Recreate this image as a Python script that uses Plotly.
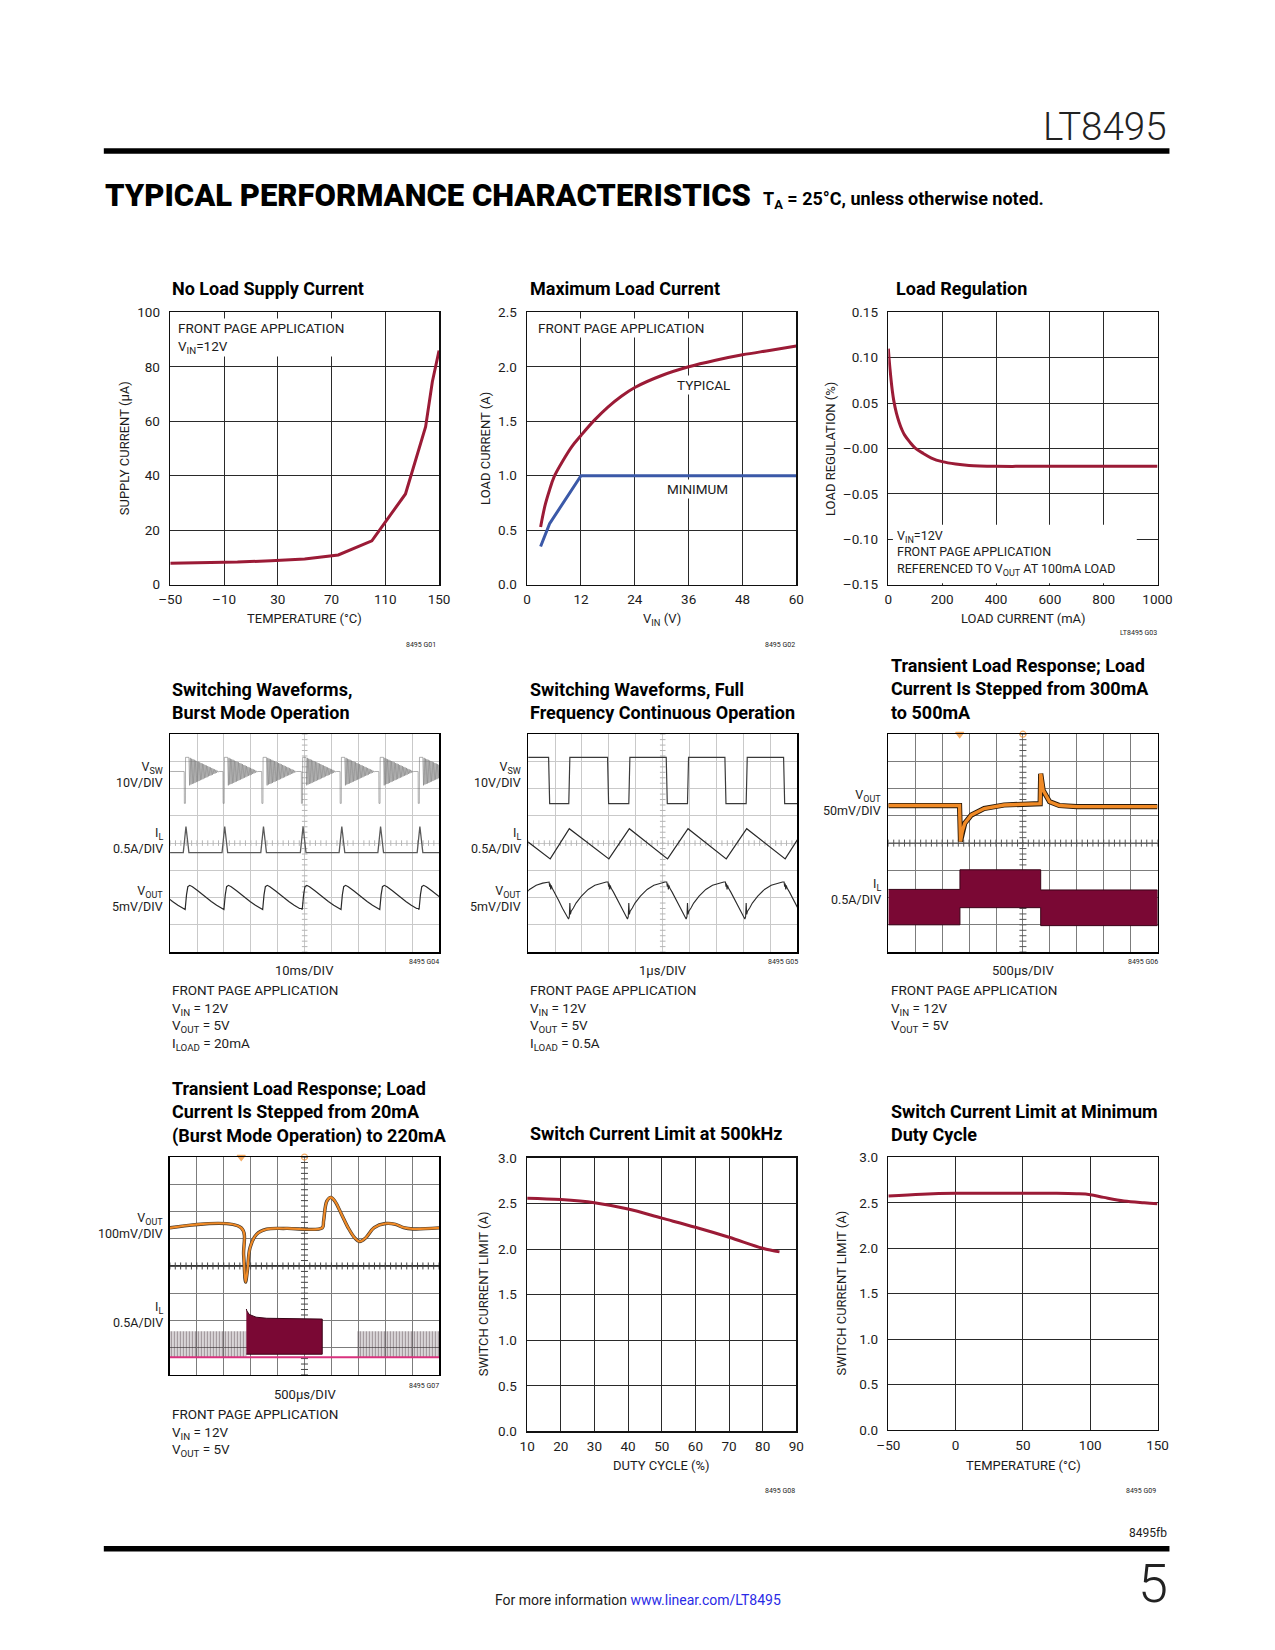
import numpy as np
import plotly.graph_objects as go

W, H = 1275, 1650
FONT = "Roboto, Liberation Sans, sans-serif"
INK = "#1c1c1c"
RED = "#9B1B36"
BLUE = "#3B59A8"
ORANGE = "#F08A26"
MAROON = "#7A0834"

# ======================= DATA =======================
# G01 No Load Supply Current
G01_TEMP_C = [-50, -25, 0, 25, 50, 75, 100, 125, 140, 145, 150]
G01_SUPPLY_UA = [7.9, 8.1, 8.3, 8.8, 9.4, 10.9, 16.1, 33.3, 58.0, 74.5, 86.0]
G01_XTICKS = [-50, -10, 30, 70, 110, 150]
G01_XLABELS = ["–50", "–10", "30", "70", "110", "150"]
G01_YTICKS = [0, 20, 40, 60, 80, 100]
G01_YLABELS = ["0", "20", "40", "60", "80", "100"]

# G02 Maximum Load Current
G02_VIN_TYP = [3, 4, 5, 6, 8, 10, 12, 15, 18, 21, 24, 30, 36, 42, 48, 54, 60]
G02_ILOAD_TYP = [0.53, 0.73, 0.87, 0.99, 1.14, 1.27, 1.37, 1.51, 1.63, 1.73, 1.81, 1.92, 2.0, 2.06, 2.11, 2.15, 2.19]
G02_VIN_MIN = [3, 5, 12, 60]
G02_ILOAD_MIN = [0.35, 0.56, 1.0, 1.0]
G02_XTICKS = [0, 12, 24, 36, 48, 60]
G02_XLABELS = ["0", "12", "24", "36", "48", "60"]
G02_YTICKS = [0, 0.5, 1.0, 1.5, 2.0, 2.5]
G02_YLABELS = ["0.0", "0.5", "1.0", "1.5", "2.0", "2.5"]

# G03 Load Regulation
G03_ILOAD_MA = [0, 3, 6, 10, 15, 20, 30, 40, 50, 60, 80, 100, 130, 160, 200, 250, 300, 400, 500, 600, 700, 800, 900, 1000]
G03_REG_PCT = [0.11, 0.098, 0.088, 0.076, 0.063, 0.053, 0.039, 0.029, 0.021, 0.015, 0.007, 0.0005, -0.0055,
               -0.0105, -0.0145, -0.0172, -0.0187, -0.0196, -0.0197, -0.0197, -0.0197, -0.0197, -0.0197, -0.0197]
G03_XTICKS = [0, 200, 400, 600, 800, 1000]
G03_XLABELS = ["0", "200", "400", "600", "800", "1000"]
G03_YTICKS = [-0.15, -0.10, -0.05, 0.0, 0.05, 0.10, 0.15]
G03_YLABELS = ["–0.15", "–0.10", "–0.05", "–0.00", "0.05", "0.10", "0.15"]

# G08 Switch Current Limit at 500kHz
G08_DUTY_PCT = [10, 20, 30, 40, 50, 60, 70, 80, 85]
G08_ILIM_A = [2.56, 2.545, 2.51, 2.44, 2.34, 2.24, 2.13, 2.01, 1.97]
G08_XTICKS = [10, 20, 30, 40, 50, 60, 70, 80, 90]
G08_XLABELS = ["10", "20", "30", "40", "50", "60", "70", "80", "90"]
G08_YTICKS = [0, 0.5, 1.0, 1.5, 2.0, 2.5, 3.0]
G08_YLABELS = ["0.0", "0.5", "1.0", "1.5", "2.0", "2.5", "3.0"]

# G09 Switch Current Limit at Minimum Duty Cycle
G09_TEMP_C = [-50, -25, 0, 25, 50, 75, 90, 100, 110, 125, 140, 150]
G09_ILIM_A = [2.575, 2.595, 2.605, 2.605, 2.605, 2.605, 2.6, 2.59, 2.56, 2.52, 2.5, 2.49]
G09_XTICKS = [-50, 0, 50, 100, 150]
G09_XLABELS = ["–50", "0", "50", "100", "150"]
G09_YTICKS = G08_YTICKS
G09_YLABELS = G08_YLABELS

# ---- scope captures, in graticule divisions (x 0..10, y 0..8) ----
# G04 Burst Mode: burst start times and per-burst waveform shapes
G04_BURST_T = [-0.91, 0.53, 1.97, 3.41, 4.88, 6.32, 7.76, 9.22]
G04_VSW_DT = [-0.02, -0.005, 0.0, 0.04, 0.045, 0.15, 0.17, 0.195, 0.22, 0.245, 0.27, 0.295, 0.32, 0.345,
              0.37, 0.395, 0.42, 0.445, 0.47, 0.495, 0.52, 0.545, 0.57, 0.595, 0.62, 0.645, 0.67, 0.695,
              0.72, 0.745, 0.77, 0.795, 0.82, 0.845, 0.87, 0.895, 0.92, 0.945, 0.97, 0.995, 1.02, 1.045,
              1.07, 1.095, 1.12, 1.145, 1.17, 1.195, 1.22, 1.245, 1.27, 1.295]
G04_VSW_V = [6.63, 6.63, 5.46, 5.46, 7.15, 7.15, 7.15, 6.12, 7.13, 6.15, 7.10, 6.17, 7.08, 6.19, 7.06,
             6.21, 7.03, 6.24, 7.01, 6.26, 6.99, 6.28, 6.97, 6.31, 6.94, 6.33, 6.92, 6.35, 6.90, 6.38,
             6.87, 6.40, 6.85, 6.42, 6.83, 6.45, 6.80, 6.47, 6.78, 6.49, 6.76, 6.51, 6.73, 6.54, 6.71,
             6.56, 6.69, 6.58, 6.66, 6.61, 6.64, 6.63]
G04_VSW_BASE = 6.63
G04_IL_DT = [-0.04, 0.06, 0.17]
G04_IL_V = [3.65, 4.61, 3.65]
G04_IL_BASE = 3.65
G04_VOUT_DT = [0.0, 0.03, 0.08, 0.13, 0.2, 0.3, 0.5, 0.7, 0.75, 0.8, 1.0, 1.2, 1.4]
G04_VOUT_V = [1.6, 1.56, 2.1, 2.4, 2.45, 2.4, 2.25, 2.08, 2.06, 2.02, 1.86, 1.72, 1.6]

# G05 Full-frequency continuous operation
G05_VSW_T = [0, 0.76, 0.80, 1.51, 1.55, 2.95, 2.99, 3.74, 3.78, 5.13, 5.17, 5.92, 5.96, 7.31, 7.35,
             8.10, 8.14, 9.49, 9.53, 10]
G05_VSW_V = [7.15, 7.15, 5.45, 5.45, 7.15, 7.15, 5.45, 5.45, 7.15, 7.15, 5.45, 5.45, 7.15, 7.15, 5.45,
             5.45, 7.15, 7.15, 5.45, 5.45]
G05_IL_T = [0, 0.82, 1.53, 3.0, 3.76, 5.18, 5.94, 7.36, 8.12, 9.55, 10]
G05_IL_V = [4.04, 3.42, 4.53, 3.42, 4.53, 3.42, 4.53, 3.42, 4.53, 3.42, 4.12]
G05_FALL_T = [-1.40, 0.78, 2.97, 5.15, 7.33, 9.51]
G05_VOUT_DT = [0.0, 0.02, 0.04, 0.06, 0.08, 0.11, 0.2, 0.35, 0.5, 0.65, 0.72, 0.75, 0.77, 0.79, 0.82,
               0.9, 1.0, 1.2, 1.45, 1.7, 1.94, 2.12]
G05_VOUT_V = [2.57, 2.4, 2.52, 2.3, 2.45, 2.35, 2.2, 1.9, 1.6, 1.32, 1.21, 1.3, 1.8, 1.38, 1.5,
              1.62, 1.8, 2.05, 2.3, 2.45, 2.53, 2.57]

# G06 Transient 300mA -> 500mA
G06_VOUT_T = [0, 2.645, 2.68, 2.75, 2.84, 3.08, 3.56, 4.3, 5.64, 5.66, 5.75, 5.99, 6.35, 7.0, 10]
G06_VOUT_V = [5.38, 5.38, 4.06, 4.45, 4.73, 5.03, 5.27, 5.4, 5.45, 6.55, 5.94, 5.52, 5.38, 5.34, 5.34]
G06_IL_T = [0, 2.66, 2.66, 5.66, 5.66, 10]
G06_IL_HI = [2.3, 2.3, 3.02, 3.02, 2.28, 2.28]
G06_IL_LO = [1.0, 1.0, 1.63, 1.63, 0.97, 0.97]
G06_TRIGGER_T = [2.65, 5.0]

# G07 Transient 20mA (Burst) -> 220mA
G07_VOUT_T = [0, 2.65, 2.74, 2.81, 2.88, 2.98, 3.22, 3.59, 4.32, 5.66, 5.71, 5.83, 5.98, 6.13, 6.38,
              6.62, 6.86, 7.05, 7.28, 7.59, 8.01, 8.38, 8.68, 9.04, 10]
G07_VOUT_V = [5.40, 5.40, 4.40, 3.41, 3.83, 4.68, 5.16, 5.35, 5.38, 5.40, 5.65, 6.38, 6.52, 6.38, 5.89,
              5.41, 5.04, 4.90, 5.04, 5.41, 5.56, 5.53, 5.41, 5.36, 5.40]
G07_IL_BASE_T = [0, 10]
G07_IL_BASE_V = [0.65, 0.65]
G07_BURST1_T = [0, 2.84]
G07_BURST2_T = [6.97, 10]
G07_BURST_TOP = 1.6
G07_BLOCK_T = [2.84, 2.86, 2.95, 3.2, 3.6, 5.0, 5.64, 5.66]
G07_BLOCK_HI = [2.42, 2.35, 2.22, 2.12, 2.08, 2.06, 2.05, 2.05]
G07_BLOCK_LO = [0.76, 0.76, 0.76, 0.76, 0.76, 0.76, 0.76, 0.76]
G07_TRIGGER_T = [2.65, 5.0]

# ======================= FIGURE =======================
fig = go.Figure()
L = {}


def names(n):
    s = "" if n == 1 else str(n)
    return "xaxis" + s, "yaxis" + s, "x" + s, "y" + s


def fx(px):
    return px / W


def fy(py):
    return 1 - py / H


def sub(s):
    return "<span style='font-size:72%;baseline-shift:-0.3em'>" + s + "</span>"


def chart(n, px, py, xr, yr, xt, xl, yt, yl):
    xa, ya, xn, yn = names(n)
    common = dict(showgrid=True, gridcolor="#2a2a2a", gridwidth=1, showline=True, linecolor="#111",
                  linewidth=1.6, mirror=True, zeroline=False, ticks="", fixedrange=True,
                  tickfont=dict(family=FONT, size=13.5, color=INK), tickmode="array")
    L[xa] = dict(domain=[fx(px[0]), fx(px[1])], range=xr, tickvals=xt, ticktext=xl, anchor=yn,
                 ticklabelstandoff=2, **common)
    L[ya] = dict(domain=[fy(py[1]), fy(py[0])], range=yr, tickvals=yt, ticktext=yl, anchor=xn,
                 ticklabelstandoff=6, **common)


def scope(n, px, py, grid):
    xa, ya, xn, yn = names(n)
    common = dict(showgrid=True, gridcolor=grid, gridwidth=1, showline=True, linecolor="black",
                  linewidth=1.5, mirror=True, zeroline=False, ticks="", showticklabels=False,
                  fixedrange=True, tickmode="linear", tick0=0, dtick=1)
    L[xa] = dict(domain=[fx(px[0]), fx(px[1])], range=[0, 10], anchor=yn, **common)
    L[ya] = dict(domain=[fy(py[1]), fy(py[0])], range=[0, 8], anchor=xn, **common)


def line(n, x, y, color, width, shape="linear"):
    _, _, xn, yn = names(n)
    fig.add_trace(go.Scatter(x=x, y=y, mode="lines", xaxis=xn, yaxis=yn, hoverinfo="skip",
                             line=dict(color=color, width=width, shape=shape)))


def poly(n, x, y, fillcolor, linecolor, lw=0.8, pattern=None):
    _, _, xn, yn = names(n)
    kw = {}
    if pattern:
        kw["fillpattern"] = pattern
    fig.add_trace(go.Scatter(x=x, y=y, mode="lines", fill="toself", fillcolor=fillcolor,
                             line=dict(color=linecolor, width=lw), xaxis=xn, yaxis=yn,
                             hoverinfo="skip", **kw))


def graticule(n, color, size, hline_color=None):
    _, _, xn, yn = names(n)
    if hline_color:
        fig.add_trace(go.Scatter(x=[0, 10], y=[4, 4], mode="lines", xaxis=xn, yaxis=yn,
                                 line=dict(color=hline_color, width=1.4), hoverinfo="skip"))
    tx = np.round(np.arange(0, 10.001, 0.2), 2)
    ty = np.round(np.arange(0, 8.001, 0.2), 2)
    fig.add_trace(go.Scatter(x=tx, y=[4] * len(tx), mode="markers", xaxis=xn, yaxis=yn, hoverinfo="skip",
                             marker=dict(symbol="line-ns", size=size, line=dict(color=color, width=1))))
    fig.add_trace(go.Scatter(x=[5] * len(ty), y=ty, mode="markers", xaxis=xn, yaxis=yn, hoverinfo="skip",
                             marker=dict(symbol="line-ew", size=size, line=dict(color=color, width=1))))


def tile(starts, dts, vals):
    xs, ys = [], []
    for s in starts:
        xs.extend(round(s + d, 4) for d in dts)
        ys.extend(vals)
    return xs, ys


def text(x, y, s, size=13.5, xanchor="left", weight=400, color=INK, angle=0, bg=None, align=None):
    font = dict(family=FONT, size=size, color=color, weight=weight)
    kw = {}
    if bg:
        kw.update(bgcolor=bg, borderpad=1)
    if align:
        kw["align"] = align
    fig.add_annotation(x=fx(x), y=fy(y), xref="paper", yref="paper", text=s, showarrow=False,
                       xanchor=xanchor, yanchor="middle", font=font, textangle=angle, **kw)


# ----- axes -----
ROW1 = (307.3, 582.3)
chart(1, (161.7, 436.3), ROW1, [-50, 150], [0, 100], G01_XTICKS, G01_XLABELS, G01_YTICKS, G01_YLABELS)
chart(2, (526.3, 801.3), ROW1, [0, 60], [0, 2.5], G02_XTICKS, G02_XLABELS, G02_YTICKS, G02_YLABELS)
chart(3, (895.3, 1170.3), ROW1, [0, 1000], [-0.15, 0.15], G03_XTICKS, G03_XLABELS, G03_YTICKS, G03_YLABELS)
ROW2 = (733.3, 953.3)
scope(4, (161.5, 436.5), ROW2, "#c9c9c9")
scope(5, (527.3, 802.3), ROW2, "#c9c9c9")
scope(6, (895.3, 1170.3), ROW2, "#7c7c7c")
scope(7, (161.3, 436.3), (1160.3, 1380.3), "#7c7c7c")
chart(8, (526.3, 801.3), (1161.3, 1437.3), [10, 90], [0, 3], G08_XTICKS, G08_XLABELS, G08_YTICKS, G08_YLABELS)
chart(9, (895.3, 1170.3), (1160.7, 1435.7), [-50, 150], [0, 3], G09_XTICKS, G09_XLABELS, G09_YTICKS, G09_YLABELS)

# ----- chart traces -----
line(1, G01_TEMP_C, G01_SUPPLY_UA, RED, 3)
line(2, G02_VIN_MIN, G02_ILOAD_MIN, BLUE, 3)
line(2, G02_VIN_TYP, G02_ILOAD_TYP, RED, 3, shape="spline")
line(3, G03_ILOAD_MA, G03_REG_PCT, RED, 3, shape="spline")
line(8, G08_DUTY_PCT, G08_ILIM_A, RED, 3, shape="spline")
line(9, G09_TEMP_C, G09_ILIM_A, RED, 3, shape="spline")

# ----- G04 -----
graticule(4, "#b5b5b5", 4)
x, y = tile(G04_BURST_T[1:], G04_VSW_DT, G04_VSW_V)
line(4, [0] + x, [G04_VSW_BASE] + y, "#7a7a7a", 0.6)
x, y = tile(G04_BURST_T, G04_IL_DT, G04_IL_V)
line(4, [0] + x + [10], [G04_IL_BASE] + y + [G04_IL_BASE], "#5a5a5a", 1.3)
x, y = tile(G04_BURST_T, G04_VOUT_DT, G04_VOUT_V)
line(4, x, y, "#2a2a2a", 1.2)

# ----- G05 -----
graticule(5, "#b5b5b5", 4)
line(5, G05_VSW_T, G05_VSW_V, "#3a3a3a", 1.2)
line(5, G05_IL_T, G05_IL_V, "#2a2a2a", 1.2)
x, y = tile(G05_FALL_T, G05_VOUT_DT, G05_VOUT_V)
line(5, x, y, "#2a2a2a", 1.1)

# ----- G06 -----
graticule(6, "#555555", 5, hline_color="#5a5a5a")
poly(6, G06_IL_T + G06_IL_T[::-1], G06_IL_HI + G06_IL_LO[::-1], MAROON, "#3a0418", 1.0)
line(6, G06_VOUT_T, G06_VOUT_V, "#2a1a0a", 5.2)
line(6, G06_VOUT_T, G06_VOUT_V, ORANGE, 3.4)
fig.add_trace(go.Scatter(x=G06_TRIGGER_T, y=[8, 8], mode="markers", xaxis="x6", yaxis="y6", cliponaxis=False,
                         hoverinfo="skip", marker=dict(symbol=["triangle-down", "circle-open"], size=[7, 6],
                                                       color=ORANGE, line=dict(color=ORANGE, width=1.2))))

# ----- G07 -----
graticule(7, "#444444", 5, hline_color="#1a1a1a")
pat = dict(shape="|", fgcolor="#3d2a33", bgcolor="rgba(255,255,255,0)", size=3, solidity=0.6)
for seg in (G07_BURST1_T, G07_BURST2_T):
    poly(7, [seg[0], seg[1], seg[1], seg[0], seg[0]],
         [G07_IL_BASE_V[0], G07_IL_BASE_V[0], G07_BURST_TOP, G07_BURST_TOP, G07_IL_BASE_V[0]],
         "rgba(255,255,255,0)", "rgba(0,0,0,0)", 0, pattern=pat)
poly(7, G07_BLOCK_T + G07_BLOCK_T[::-1], G07_BLOCK_HI + G07_BLOCK_LO[::-1], MAROON, "#3a0418", 1.0)
line(7, G07_IL_BASE_T, G07_IL_BASE_V, "#D9327E", 2)
line(7, G07_VOUT_T, G07_VOUT_V, "#4a3a2a", 3.4, shape="spline")
line(7, G07_VOUT_T, G07_VOUT_V, ORANGE, 2.1, shape="spline")
fig.add_trace(go.Scatter(x=G07_TRIGGER_T, y=[8, 8], mode="markers", xaxis="x7", yaxis="y7", cliponaxis=False,
                         hoverinfo="skip", marker=dict(symbol=["triangle-down", "circle-open"], size=[7, 6],
                                                       color=ORANGE, line=dict(color=ORANGE, width=1.2))))

# ----- G03 note box (hides grid under the note) -----
fig.add_shape(type="rect", xref="x3", yref="y3", x0=17, x1=923, y0=-0.1485, y1=-0.0839,
              fillcolor="white", line=dict(width=0), layer="above")

# ======================= TEXT =======================
VIN, VOUT, VSW, IL, ILOAD = ("V" + sub("IN"), "V" + sub("OUT"), "V" + sub("SW"), "I" + sub("L"),
                             "I" + sub("LOAD"))

# page header / footer
text(1182, 120, "LT8495", size=38.5, xanchor="right", weight=300, color="#222")
fig.add_shape(type="rect", xref="paper", yref="paper", x0=fx(93.8), x1=fx(1182.5), y0=fy(147.2),
              y1=fy(141.6), fillcolor="black", line=dict(width=0))
text(93, 189, "TYPICAL PERFORMANCE CHARACTERISTICS", size=31, weight=900, color="black")
text(765, 194, "T" + sub("A") + " = 25°C, unless otherwise noted.", size=18, weight=700, color="black")
text(1182, 1540, "8495fb", size=12, xanchor="right")
fig.add_shape(type="rect", xref="paper", yref="paper", x0=fx(93.8), x1=fx(1182.5), y0=fy(1558.6),
              y1=fy(1553.0), fillcolor="black", line=dict(width=0))
text(1183, 1591, "5", size=54, xanchor="right", weight=300, color="#222")
text(640, 1608, "For more information <span style='color:#2a2ae6'>www.linear.com/LT8495</span>",
     size=14, xanchor="center")

# titles
TS = 18
for x0, yc, s in [
    (161.5, 283.5, "No Load Supply Current"),
    (527.5, 283.5, "Maximum Load Current"),
    (901.5, 283.5, "Load Regulation"),
    (161.5, 699.5, "Switching Waveforms,<br>Burst Mode Operation"),
    (527.5, 699.5, "Switching Waveforms, Full<br>Frequency Continuous Operation"),
    (895.5, 688, "Transient Load Response; Load<br>Current Is Stepped from 300mA<br>to 500mA"),
    (161.5, 1115, "Transient Load Response; Load<br>Current Is Stepped from 20mA<br>(Burst Mode Operation) to 220mA"),
    (527.5, 1137, "Switch Current Limit at 500kHz"),
    (895.5, 1126, "Switch Current Limit at Minimum<br>Duty Cycle"),
]:
    text(x0, yc, s, size=TS, weight=700, color="black", align="left")

# axis titles
AS = 13
text(299, 616.5, "TEMPERATURE (°C)", size=AS, xanchor="center")
text(115, 445, "SUPPLY CURRENT (µA)", size=AS, xanchor="center", angle=-90)
text(664, 617, VIN + " (V)", size=AS, xanchor="center")
text(483.5, 445, "LOAD CURRENT (A)", size=AS, xanchor="center", angle=-90)
text(1033, 616.5, "LOAD CURRENT (mA)", size=AS, xanchor="center")
text(836, 445, "LOAD REGULATION (%)", size=AS, xanchor="center", angle=-90)
text(664, 1472, "DUTY CYCLE (%)", size=AS, xanchor="center")
text(482, 1298, "SWITCH CURRENT LIMIT (A)", size=AS, xanchor="center", angle=-90)
text(1033, 1472, "TEMPERATURE (°C)", size=AS, xanchor="center")
text(847, 1298, "SWITCH CURRENT LIMIT (A)", size=AS, xanchor="center", angle=-90)

# in-chart notes
text(167.5, 333, "FRONT PAGE APPLICATION<br>" + VIN + "=12V", size=13.5, bg="white", align="left")
text(535, 322.7, "FRONT PAGE APPLICATION", size=13.5, bg="white")
text(706.7, 380.7, "TYPICAL", size=13.5, xanchor="center", bg="white")
text(700, 486, "MINIMUM", size=13.5, xanchor="center", bg="white")
text(902.5, 550, VIN + "=12V<br>FRONT PAGE APPLICATION<br>REFERENCED TO " + VOUT + " AT 100mA LOAD",
     size=12.5, align="left")

# scope channel labels
LS = 12.5
for xr_, ys, labels in [
    (156, [774, 840.8, 898.8], [VSW + "<br>10V/DIV", IL + "<br>0.5A/DIV", VOUT + "<br>5mV/DIV"]),
    (521.7, [774, 840.8, 898.8], [VSW + "<br>10V/DIV", IL + "<br>0.5A/DIV", VOUT + "<br>5mV/DIV"]),
    (890, [802.6, 892.5], [VOUT + "<br>50mV/DIV", IL + "<br>0.5A/DIV"]),
    (156, [1229.2, 1319.2], [VOUT + "<br>100mV/DIV", IL + "<br>0.5A/DIV"]),
]:
    for yy, s in zip(ys, labels):
        text(xr_, yy, s, size=LS, xanchor="right", align="right")

# scope captions
text(299, 971.8, "10ms/DIV", size=AS, xanchor="center")
text(665, 971.8, "1µs/DIV", size=AS, xanchor="center")
text(1033, 971.8, "500µs/DIV", size=AS, xanchor="center")
text(299, 1399.7, "500µs/DIV", size=AS, xanchor="center")
CAP = 13.5
text(161.5, 1019.3, "FRONT PAGE APPLICATION<br>" + VIN + " = 12V<br>" + VOUT + " = 5V<br>" + ILOAD + " = 20mA",
     size=CAP, align="left")
text(527.5, 1019.3, "FRONT PAGE APPLICATION<br>" + VIN + " = 12V<br>" + VOUT + " = 5V<br>" + ILOAD + " = 0.5A",
     size=CAP, align="left")
text(896, 1010.3, "FRONT PAGE APPLICATION<br>" + VIN + " = 12V<br>" + VOUT + " = 5V", size=CAP, align="left")
text(161.5, 1438.2, "FRONT PAGE APPLICATION<br>" + VIN + " = 12V<br>" + VOUT + " = 5V", size=CAP, align="left")

# figure tags
for xr_, yy, s in [(435.5, 643, "8495 G01"), (802, 643, "8495 G02"), (1172, 631, "LT8495 G03"),
                   (438.5, 963.4, "8495 G04"), (805, 963.4, "8495 G05"), (1173, 963.4, "8495 G06"),
                   (438.5, 1391, "8495 G07"), (802, 1497.7, "8495 G08"), (1171, 1497.7, "8495 G09")]:
    text(xr_, yy, s, size=7, xanchor="right")

fig.update_layout(width=W, height=H, margin=dict(l=0, r=0, t=0, b=0), paper_bgcolor="white",
                  plot_bgcolor="white", showlegend=False, hovermode=False, **L)

PAGE_JS = ("document.documentElement.style.margin='0';document.body.style.margin='0';"
           "document.body.style.padding='0';document.documentElement.style.overflow='hidden';"
           "var d=document.getElementById('{plot_id}');d.style.position='absolute';"
           "d.style.left='0px';d.style.top='0px';")
fig.write_html("out.html", config={"displayModeBar": False, "staticPlot": True}, post_script=PAGE_JS)
